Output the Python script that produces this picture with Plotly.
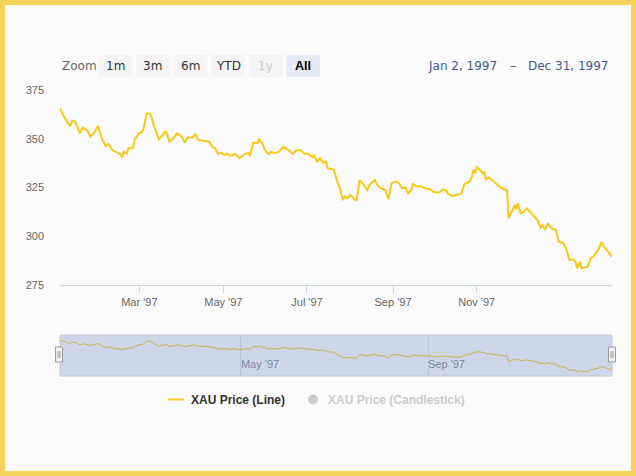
import plotly.graph_objects as go

# ---------------- data ----------------
dates = [
    "1997-01-02", "1997-01-04", "1997-01-07", "1997-01-09", "1997-01-10", "1997-01-12",
    "1997-01-15", "1997-01-17", "1997-01-20", "1997-01-22", "1997-01-25", "1997-01-27",
    "1997-01-29", "1997-02-01", "1997-02-03", "1997-02-05", "1997-02-07", "1997-02-10",
    "1997-02-12", "1997-02-13", "1997-02-15", "1997-02-16", "1997-02-19", "1997-02-20",
    "1997-02-23", "1997-02-25", "1997-02-26", "1997-02-28", "1997-03-02", "1997-03-03",
    "1997-03-05", "1997-03-08", "1997-03-10", "1997-03-12", "1997-03-13", "1997-03-15",
    "1997-03-18", "1997-03-20", "1997-03-23", "1997-03-25", "1997-03-27", "1997-03-30",
    "1997-04-01", "1997-04-03", "1997-04-06", "1997-04-10", "1997-04-12", "1997-04-14",
    "1997-04-16", "1997-04-18", "1997-04-20", "1997-04-22", "1997-04-24", "1997-04-27",
    "1997-04-30", "1997-05-03", "1997-05-06", "1997-05-07", "1997-05-09", "1997-05-12",
    "1997-05-13", "1997-05-15", "1997-05-17", "1997-05-19", "1997-05-21", "1997-05-23",
    "1997-05-26", "1997-05-29", "1997-06-01", "1997-06-04", "1997-06-06", "1997-06-09",
    "1997-06-12", "1997-06-14", "1997-06-17", "1997-06-18", "1997-06-20", "1997-06-22",
    "1997-06-24", "1997-06-26", "1997-06-27", "1997-07-01", "1997-07-03", "1997-07-05",
    "1997-07-07", "1997-07-08", "1997-07-10", "1997-07-12", "1997-07-14", "1997-07-16",
    "1997-07-18", "1997-07-20", "1997-07-23", "1997-07-25", "1997-07-28", "1997-07-30",
    "1997-08-01", "1997-08-04", "1997-08-06", "1997-08-08", "1997-08-11", "1997-08-13",
    "1997-08-15", "1997-08-17", "1997-08-19", "1997-08-21", "1997-08-22", "1997-08-25",
    "1997-08-27", "1997-08-30", "1997-09-02", "1997-09-05", "1997-09-08", "1997-09-11",
    "1997-09-13", "1997-09-14", "1997-09-17", "1997-09-20", "1997-09-23", "1997-09-25",
    "1997-09-28", "1997-09-30", "1997-10-01", "1997-10-02", "1997-10-03", "1997-10-05",
    "1997-10-07", "1997-10-08", "1997-10-09", "1997-10-11", "1997-10-13", "1997-10-16",
    "1997-10-18", "1997-10-21", "1997-10-23", "1997-10-24", "1997-10-25", "1997-10-27",
    "1997-10-28", "1997-10-29", "1997-10-30", "1997-11-01", "1997-11-03", "1997-11-05",
    "1997-11-07", "1997-11-10", "1997-11-12", "1997-11-14", "1997-11-15", "1997-11-17",
    "1997-11-19", "1997-11-21", "1997-11-24", "1997-11-26", "1997-11-29", "1997-12-01",
    "1997-12-03", "1997-12-05", "1997-12-07", "1997-12-08", "1997-12-10", "1997-12-11",
    "1997-12-13", "1997-12-15", "1997-12-17", "1997-12-19", "1997-12-21", "1997-12-23",
    "1997-12-24", "1997-12-26", "1997-12-29", "1997-12-31",
]

prices = [
    365.6, 362.2, 358.2, 356.5, 359.3, 358.8,
    352.8, 355.7, 354.1, 351.1, 353.6, 356.5,
    351.1, 346.3, 347.3, 344.6, 343.4, 342.5,
    340.5, 343.4, 342.5, 345.1, 345.1, 349.4,
    352.8, 353.6, 355.3, 363.0, 363.0, 361.3,
    356.2, 349.7, 351.4, 353.6, 353.3, 348.5,
    350.7, 352.8, 351.1, 348.0, 350.7, 350.7,
    352.3, 349.4, 349.0, 348.5, 345.9, 345.1,
    342.2, 342.8, 341.7, 342.5, 341.2, 342.2,
    340.0, 342.0, 342.8, 341.2, 348.0, 348.0,
    349.7, 347.7, 343.9, 342.2, 343.4, 342.5,
    343.4, 345.9, 344.2, 342.2, 343.9, 344.2,
    342.2, 342.5, 340.5, 341.7, 338.2, 340.0,
    337.7, 338.2, 334.8, 334.3, 328.8, 324.6,
    318.6, 320.3, 319.5, 321.2, 319.5, 318.2,
    328.8, 327.1, 323.7, 326.8, 328.8, 325.8,
    324.6, 323.7, 319.0, 327.1, 328.3, 327.1,
    324.6, 325.1, 322.0, 323.7, 326.8, 325.4,
    325.8, 324.6, 324.1, 322.7, 322.3, 324.1,
    323.4, 322.0, 320.6, 321.2, 322.0, 326.8,
    328.0, 330.6, 334.3, 332.3, 335.4, 334.3,
    332.3, 333.1, 329.2, 330.2, 328.8, 327.1,
    325.4, 324.1, 323.7, 309.2, 310.9, 313.5,
    316.0, 313.8, 316.9, 311.8, 312.6, 314.3,
    312.6, 310.0, 308.3, 304.1, 305.8, 303.6,
    306.6, 304.1, 303.2, 297.2, 296.4, 293.3,
    287.8, 288.2, 287.0, 283.6, 287.0, 283.6,
    284.1, 284.4, 288.7, 289.9, 292.1, 294.6,
    297.2, 294.3, 291.6, 289.5,
]

x_range = ["1997-01-02", "1997-12-31"]
main_tick_dates = ["1997-02-23 04:00", "1997-04-19 10:00", "1997-06-13 10:00",
                   "1997-08-09 00:00", "1997-10-03 00:00"]
main_tick_labels = ["Mar '97", "May '97", "Jul '97", "Sep '97", "Nov '97"]
y_ticks = [275, 300, 325, 350, 375]
y_range = [275, 375]
nav_tick_dates = ["1997-05-01", "1997-09-01"]
nav_tick_labels = ["May '97", "Sep '97"]
nav_y_range = [273, 378]

zoom_label = "Zoom"
zoom_buttons = ["1m", "3m", "6m", "YTD", "1y", "All"]
zoom_selected = "All"
zoom_disabled = ["1y"]
range_from = "Jan 2, 1997"
range_to = "Dec 31, 1997"
series_names = ["XAU Price (Line)", "XAU Price (Candlestick)"]

# ---------------- styles ----------------
W, H = 636, 476
ML, MR, MT, MB = 60, 24, 90, 100
PW, PH = W - ML - MR, H - MT - MB
LINE = "#f7c918"
BG = "#fbfbfb"
BORDER = "#f5d25a"
AX = "Liberation Sans, Arial, sans-serif"
UI = "DejaVu Sans, sans-serif"


def px(x):
    return (x - ML) / PW


def py(y):
    return (H - MB - y) / PH


main_bottom, main_top = 285, 90
nav_bottom, nav_top = 376, 335

fig = go.Figure()
fig.add_trace(go.Scatter(x=dates, y=prices, mode="lines", name=series_names[0],
                         line=dict(color=LINE, width=2), xaxis="x", yaxis="y",
                         showlegend=False, hoverinfo="x+y"))
fig.add_trace(go.Scatter(x=dates, y=prices, mode="lines", name="navigator",
                         line=dict(color=LINE, width=1), xaxis="x2", yaxis="y2",
                         showlegend=False, hoverinfo="skip"))

shapes = []
annotations = []

# navigator mask and outline
shapes.append(dict(type="rect", xref="x2 domain", yref="y2 domain", x0=0, x1=1, y0=0, y1=1,
                   fillcolor="rgba(102,133,194,0.3)", line=dict(color="#c4c8d2", width=1),
                   layer="above"))
# navigator handles
for hx in (59, 612):
    shapes.append(dict(type="rect", xref="paper", yref="paper",
                       x0=px(hx - 3.5), x1=px(hx + 3.5), y0=py(362), y1=py(347),
                       fillcolor="#f2f2f2", line=dict(color="#999999", width=1), layer="above"))
    for dx in (-1, 1):
        shapes.append(dict(type="line", xref="paper", yref="paper",
                           x0=px(hx + dx), x1=px(hx + dx), y0=py(358), y1=py(351),
                           line=dict(color="#999999", width=1), layer="above"))

# range selector
annotations.append(dict(text=zoom_label, xref="paper", yref="paper", x=px(60), y=py(65.5),
                        xanchor="left", yanchor="middle", showarrow=False,
                        font=dict(family=UI, size=12, color="#666666")))
bx0, bw, bstep = 98.5, 33.5, 37.6
for i, b in enumerate(zoom_buttons):
    x0 = bx0 + i * bstep
    sel = b == zoom_selected
    dis = b in zoom_disabled
    shapes.append(dict(type="rect", xref="paper", yref="paper", x0=px(x0), x1=px(x0 + bw),
                       y0=py(77), y1=py(55), line=dict(width=0),
                       fillcolor="#e6ebf5" if sel else "#f4f4f4", layer="below"))
    annotations.append(dict(text=f"<b>{b}</b>" if sel else b, xref="paper", yref="paper",
                            x=px(x0 + bw / 2), y=py(65.5), xanchor="center", yanchor="middle",
                            showarrow=False,
                            font=dict(family=AX if sel else UI, size=12.5 if sel else 12,
                                      color="#000000" if sel else ("#cccccc" if dis else "#333333"))))

annotations.append(dict(text=range_from, xref="paper", yref="paper", x=px(462), y=py(65.5),
                        xanchor="center", yanchor="middle", showarrow=False,
                        font=dict(family=UI, size=12, color="#44598f")))
annotations.append(dict(text="–", xref="paper", yref="paper", x=px(513), y=py(65.5),
                        xanchor="center", yanchor="middle", showarrow=False,
                        font=dict(family=UI, size=13, color="#44598f")))
annotations.append(dict(text=range_to, xref="paper", yref="paper", x=px(568), y=py(65.5),
                        xanchor="center", yanchor="middle", showarrow=False,
                        font=dict(family=UI, size=12, color="#44598f")))

# legend
shapes.append(dict(type="line", xref="paper", yref="paper", x0=px(168), x1=px(184),
                   y0=py(399.5), y1=py(399.5), line=dict(color=LINE, width=2)))
annotations.append(dict(text=f"<b>{series_names[0]}</b>", xref="paper", yref="paper",
                        x=px(189), y=py(399.5), xanchor="left", yanchor="middle", showarrow=False,
                        font=dict(family=AX, size=12, color="#333333")))
shapes.append(dict(type="circle", xref="paper", yref="paper", x0=px(308), x1=px(318),
                   y0=py(404.5), y1=py(394.5), fillcolor="#cccccc", line=dict(width=0)))
annotations.append(dict(text=f"<b>{series_names[1]}</b>", xref="paper", yref="paper",
                        x=px(326), y=py(399.5), xanchor="left", yanchor="middle", showarrow=False,
                        font=dict(family=AX, size=12, color="#cccccc")))

# outer yellow frame
shapes.append(dict(type="rect", xref="paper", yref="paper", x0=px(0), x1=px(W),
                   y0=py(H), y1=py(0), line=dict(color=BORDER, width=10),
                   fillcolor="rgba(0,0,0,0)", layer="above"))

fig.update_layout(
    width=W, height=H,
    margin=dict(l=ML, r=MR, t=MT, b=MB, pad=0),
    paper_bgcolor=BG, plot_bgcolor=BG,
    showlegend=False,
    xaxis=dict(type="date", range=x_range, domain=[0, 1], anchor="y",
               tickmode="array", tickvals=main_tick_dates, ticktext=main_tick_labels,
               showgrid=False, zeroline=False, showline=True, linecolor="#ccd6eb", linewidth=1,
               ticks="outside", ticklen=7, tickcolor="#ccd6eb",
               tickfont=dict(family=AX, size=11, color="#666666")),
    yaxis=dict(range=y_range, domain=[py(main_bottom), py(main_top)], anchor="x",
               tickmode="array", tickvals=y_ticks, showgrid=False, zeroline=False,
               showline=False, ticks="", ticklabelstandoff=15,
               tickfont=dict(family=AX, size=11, color="#666666")),
    xaxis2=dict(type="date", range=x_range, domain=[0, 1], anchor="y2",
                tickmode="array", tickvals=nav_tick_dates, ticktext=nav_tick_labels,
                ticklabelposition="inside right", showgrid=True, gridcolor="#e6e6e6",
                zeroline=False, showline=False, ticks="",
                tickfont=dict(family=AX, size=11, color="#888888")),
    yaxis2=dict(range=nav_y_range, domain=[py(nav_bottom), py(nav_top)], anchor="x2",
                visible=False, showgrid=False, zeroline=False),
    shapes=shapes,
    annotations=annotations,
)

fig.write_html("out.html")
